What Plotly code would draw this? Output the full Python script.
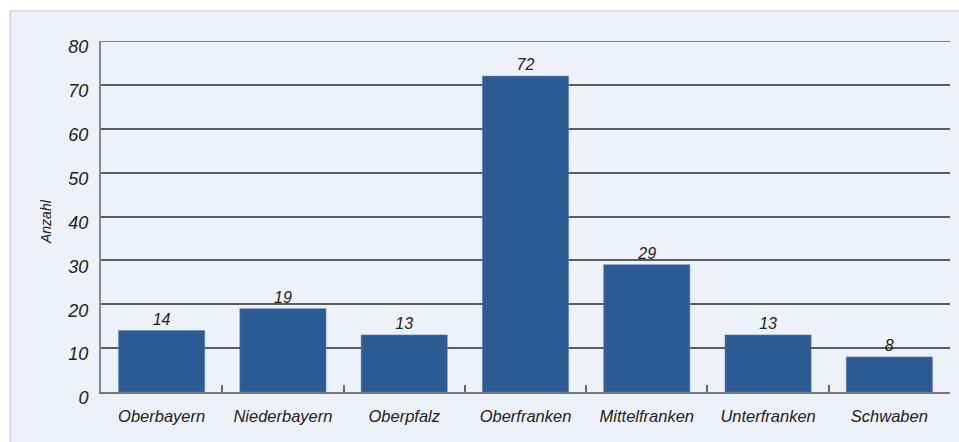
import plotly.graph_objects as go

categories = ["Oberbayern", "Niederbayern", "Oberpfalz", "Oberfranken",
              "Mittelfranken", "Unterfranken", "Schwaben"]
values = [14, 19, 13, 72, 29, 13, 8]
y_ticks = [0, 10, 20, 30, 40, 50, 60, 70, 80]
y_title = "Anzahl"

BG = "#EDF1FA"
BAR = "#2C5A92"
TXT = "#222222"
FONT = "Liberation Sans"

W, H = 959, 442
L, R, T, B = 101, 9, 41, 50
pw, ph = W - L - R, H - T - B

fig = go.Figure(go.Bar(
    x=categories, y=values,
    marker=dict(color=BAR, line=dict(color="#5d81ad", width=0.6)),
    text=values, textposition="outside", cliponaxis=False,
    textfont=dict(family=FONT, size=16, color=TXT, style="italic"),
    width=0.71,
))

fig.add_shape(type="rect", xref="paper", yref="paper", layer="below",
              x0=(10 - L) / pw, x1=(W + 5 - L) / pw,
              y0=-(H + 5 - T - ph) / ph, y1=(ph + (T - 11)) / ph,
              fillcolor=BG, line=dict(color="#c9c9c9", width=1))
# top gridline at the range maximum
fig.add_shape(type="line", xref="paper", yref="y", x0=0, x1=1, y0=80, y1=80,
              line=dict(color="#5c5c5c", width=1.6))

fig.add_annotation(text=y_title, textangle=-90, showarrow=False,
                   xref="paper", yref="paper",
                   x=(46 - L) / pw, y=(H - B - 222) / ph,
                   xanchor="center", yanchor="middle",
                   font=dict(family=FONT, size=14, color=TXT, style="italic"))

fig.update_layout(
    width=W, height=H,
    margin=dict(l=L, r=R, t=T, b=B, autoexpand=False),
    paper_bgcolor="white", plot_bgcolor=BG,
    showlegend=False,
    font=dict(family=FONT, color=TXT),
)
fig.update_xaxes(
    automargin=False,
    tickson="boundaries", ticks="inside", ticklen=7, tickwidth=1.5, tickcolor="#666",
    showline=True, linecolor="#777", linewidth=2, mirror=False,
    showgrid=False, zeroline=False,
    tickfont=dict(family=FONT, size=16.5, color=TXT, style="italic"),
    ticklabelstandoff=8,
)
fig.update_yaxes(
    automargin=False,
    range=[0, 80], tickvals=y_ticks, ticktext=[str(v) for v in y_ticks],
    showgrid=True, gridcolor="#5c5c5c", gridwidth=1.6,
    showline=True, linecolor="#888", linewidth=2,
    zeroline=False, ticks="",
    tickfont=dict(family=FONT, size=18, color=TXT, style="italic"),
    ticklabelstandoff=7, ticklabelshift=6,
)

fig.write_html("out.html", config={"displayModeBar": False},
               post_script="document.body.style.margin='0';document.body.style.overflow='hidden';")
